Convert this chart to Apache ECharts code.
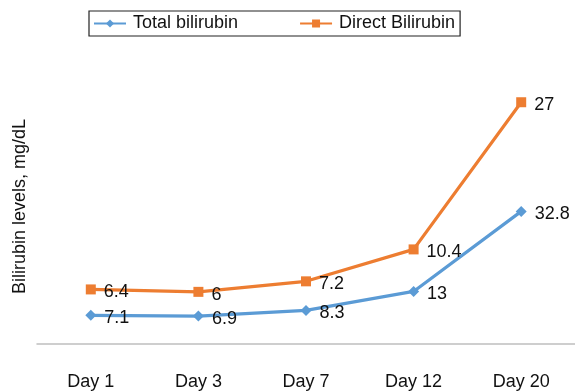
<!DOCTYPE html>
<html>
<head>
<meta charset="utf-8">
<script src="https://cdn.jsdelivr.net/npm/echarts@6/dist/echarts.min.js"></script>
<style>
  html, body { margin: 0; padding: 0; background: #fff; }
  #chart { width: 575px; height: 391px; }
</style>
</head>
<body>
<div id="chart"></div>
<script>
  // ── Data ──
  var days = ['Day 1', 'Day 3', 'Day 7', 'Day 12', 'Day 20'];
  var totalBilirubin = [7.1, 6.9, 8.3, 13, 32.8];
  var directBilirubin = [6.4, 6, 7.2, 10.4, 27];

  var BLUE = '#5b9bd5';
  var ORANGE = '#ed7d31';
  var FONT = '"Liberation Sans", Arial, sans-serif';

  function lineSeries(name, values, color, symbol, size) {
    return {
      name: name,
      type: 'line',
      stack: 'bili',
      data: values,
      symbol: symbol,
      symbolSize: size,
      lineStyle: { width: 3.2, color: color },
      itemStyle: { color: color },
      label: {
        show: true,
        position: 'right',
        distance: 8,
        offset: [0, 3],
        color: '#111',
        fontFamily: FONT,
        fontSize: 18
      }
    };
  }

  var chart = echarts.init(document.getElementById('chart'), null, { renderer: 'canvas' });
  chart.setOption({
    animation: false,
    textStyle: { fontFamily: FONT },
    legend: {
      top: 11,
      left: 89,
      padding: [3, 5, 3, 4],
      borderColor: '#222',
      borderWidth: 1.2,
      itemWidth: 32,
      itemHeight: 10,
      itemGap: 61,
      textStyle: { color: '#111', fontSize: 18, lineHeight: 19, fontFamily: FONT, padding: [0, 0, 0, 2] }
    },
    grid: { left: 37, right: 0, top: 61, bottom: 46 },
    xAxis: {
      type: 'category',
      data: days,
      boundaryGap: true,
      axisLine: { lineStyle: { color: '#bfbfbf', width: 1.5 } },
      axisTick: { show: false },
      axisLabel: { color: '#111', fontSize: 18, margin: 29, fontFamily: FONT }
    },
    yAxis: {
      type: 'value',
      min: 0,
      max: 70,
      name: 'Bilirubin levels, mg/dL',
      nameLocation: 'middle',
      nameGap: 8,
      nameTextStyle: { color: '#111', fontSize: 18, fontFamily: FONT, padding: [0, 8, 0, 0] },
      axisLine: { show: false },
      axisTick: { show: false },
      axisLabel: { show: false },
      splitLine: { show: false }
    },
    series: [
      lineSeries('Total bilirubin', totalBilirubin, BLUE, 'diamond', 11),
      lineSeries('Direct Bilirubin', directBilirubin, ORANGE, 'rect', 10)
    ]
  });
</script>
</body>
</html>
